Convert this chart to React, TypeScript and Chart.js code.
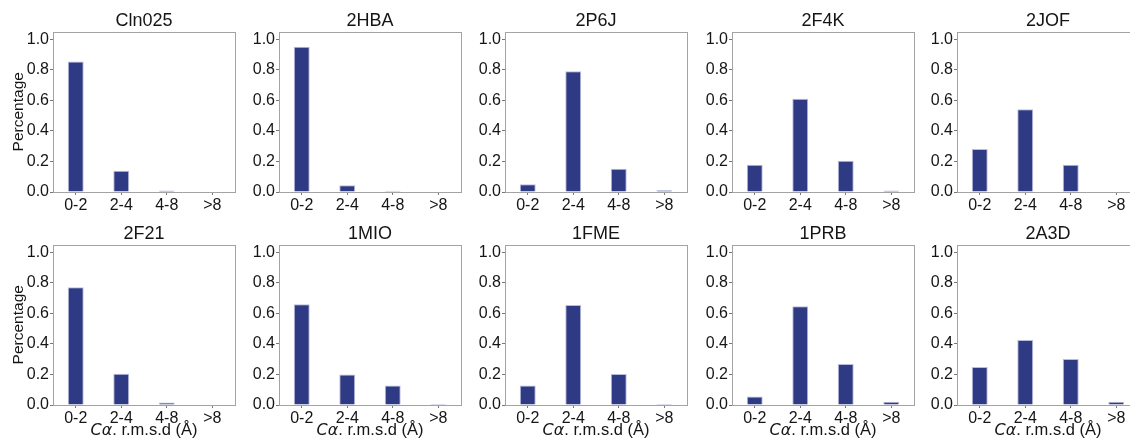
import React, { useEffect, useRef } from "react";
import { Chart, registerables } from "chart.js";

Chart.register(...registerables);

// ---- data ----
const categories = ["0-2", "2-4", "4-8", ">8"];
const panelTitles = ["Cln025", "2HBA", "2P6J", "2F4K", "2JOF", "2F21", "1MIO", "1FME", "1PRB", "2A3D"];
const cln025 = [0.854, 0.139, 0.01, 0];
const hba2 = [0.95, 0.044, 0.008, 0];
const p6j2 = [0.05, 0.79, 0.152, 0.012];
const f4k2 = [0.178, 0.61, 0.205, 0.01];
const jof2 = [0.281, 0.542, 0.178, 0];
const f21_2 = [0.771, 0.205, 0.017, 0];
const mio1 = [0.659, 0.199, 0.127, 0.007];
const fme1 = [0.127, 0.655, 0.203, 0.007];
const prb1 = [0.055, 0.646, 0.269, 0.022];
const a3d2 = [0.249, 0.426, 0.301, 0.022];
const panelValues = [cln025, hba2, p6j2, f4k2, jof2, f21_2, mio1, fme1, prb1, a3d2];
const yTicks = [0, 0.2, 0.4, 0.6, 0.8, 1.0];
const yMin = 0;
const yMax = 1.05;
const yAxisTitle = "Percentage";
const xAxisTitleItalic = "Cα";
const xAxisTitleRest = ". r.m.s.d (Å)";

const FONT = "'Liberation Sans', Arial, Helvetica, sans-serif";
const MATH_FONT = "'DejaVu Sans', sans-serif";
const BAR_COLOR = "#2f3a84";
const BAR_EDGE = "#b9bddc";
const SPINE = "#a3a3a3";
const TICK_MARK = "#777777";
const TEXT = "#151515";

const COL_LEFTS = [0, 226, 452, 679, 904];
const ROW_TOPS = [0, 213];
const Y_AXIS_W = 53;
const PLOT_W = 182;
const CANVAS_W = Y_AXIS_W + PLOT_W + Y_AXIS_W;

type PanelProps = {
  title: string;
  values: number[];
  showY: boolean;
  showX: boolean;
  left: number;
  top: number;
};

function Panel({ title, values, showY, showX, left, top }: PanelProps) {
  const ref = useRef<HTMLCanvasElement | null>(null);
  const height = showX ? 232 : 222;

  useEffect(() => {
    if (!ref.current) return;

    const boxPlugin = {
      id: "boxPlugin",
      afterDatasetsDraw(chart: any) {
        const { ctx, chartArea } = chart;
        ctx.save();
        ctx.strokeStyle = SPINE;
        ctx.lineWidth = 1;
        ctx.strokeRect(
          Math.round(chartArea.left) + 0.5,
          Math.round(chartArea.top) + 0.5,
          Math.round(chartArea.right) - Math.round(chartArea.left),
          Math.round(chartArea.bottom) - Math.round(chartArea.top)
        );
        ctx.restore();
      },
    };

    const xTitlePlugin = {
      id: "xTitlePlugin",
      afterDraw(chart: any) {
        if (!showX) return;
        const { ctx, chartArea } = chart;
        ctx.save();
        ctx.fillStyle = TEXT;
        ctx.textBaseline = "alphabetic";
        ctx.textAlign = "left";
        const italicFont = `italic 16px ${MATH_FONT}`;
        const normalFont = `16.5px ${FONT}`;
        ctx.font = italicFont;
        const w1 = ctx.measureText(xAxisTitleItalic).width;
        ctx.font = normalFont;
        const w2 = ctx.measureText(xAxisTitleRest).width;
        const cx = (chartArea.left + chartArea.right) / 2;
        const x0 = cx - (w1 + w2) / 2;
        const y = chartArea.bottom + 30;
        ctx.font = italicFont;
        ctx.fillText(xAxisTitleItalic, x0, y);
        ctx.font = normalFont;
        ctx.fillText(xAxisTitleRest, x0 + w1, y);
        ctx.restore();
      },
    };

    const chart = new Chart(ref.current, {
      type: "bar",
      data: {
        labels: categories,
        datasets: [
          {
            data: values,
            backgroundColor: BAR_COLOR,
            borderColor: BAR_EDGE,
            borderWidth: 1,
            barPercentage: 0.35,
            categoryPercentage: 1.0,
            yAxisID: "y",
          },
        ],
      },
      options: {
        animation: false,
        responsive: false,
        maintainAspectRatio: false,
        devicePixelRatio: 1,
        layout: { padding: { top: 0, right: 0, bottom: showX ? 16 : 0, left: 0 } },
        plugins: {
          legend: { display: false },
          tooltip: { enabled: false },
          title: {
            display: true,
            text: title,
            color: TEXT,
            font: { family: FONT, size: 18, weight: "normal", lineHeight: 1 },
            padding: { top: 12.5, bottom: 1 },
          },
        },
        scales: {
          x: {
            type: "category",
            offset: true,
            border: { display: false },
            grid: {
              display: true,
              drawOnChartArea: false,
              drawTicks: true,
              tickLength: 3,
              color: TICK_MARK,
              offset: false,
            },
            ticks: {
              color: TEXT,
              font: { family: FONT, size: 16 },
              padding: 1,
              maxRotation: 0,
              autoSkip: false,
            },
            afterFit: (s: any) => {
              s.height = showX ? 24 : 30;
            },
          },
          y: {
            type: "linear",
            position: "left",
            min: yMin,
            max: yMax,
            border: { display: false },
            grid: {
              display: true,
              drawOnChartArea: false,
              drawTicks: true,
              tickLength: 3,
              color: TICK_MARK,
            },
            afterBuildTicks: (s: any) => {
              s.ticks = yTicks.map((v) => ({ value: v }));
            },
            ticks: {
              color: TEXT,
              font: { family: FONT, size: 16 },
              padding: 1,
              includeBounds: false,
              callback: (v: any) => Number(v).toFixed(1),
            },
            title: {
              display: showY,
              text: yAxisTitle,
              color: TEXT,
              font: { family: FONT, size: 15.5, lineHeight: 1.2 },
              padding: { top: 9, bottom: 0 },
            },
            afterFit: (s: any) => {
              s.width = Y_AXIS_W;
            },
          },
          yRightSpacer: {
            type: "linear",
            position: "right",
            display: true,
            min: yMin,
            max: yMax,
            border: { display: false },
            grid: { display: false, drawTicks: false },
            ticks: { display: false },
            afterFit: (s: any) => {
              s.width = Y_AXIS_W;
            },
          },
        },
      },
      plugins: [boxPlugin, xTitlePlugin],
    } as any);

    return () => chart.destroy();
  }, [title, values, showY, showX]);

  return (
    <canvas
      ref={ref}
      width={CANVAS_W}
      height={height}
      style={{ position: "absolute", left, top, width: CANVAS_W, height }}
    />
  );
}

export default function App() {
  return (
    <div
      style={{
        position: "absolute",
        left: 0,
        top: 0,
        width: 1130,
        height: 444,
        overflow: "hidden",
        background: "#ffffff",
      }}
    >
      {panelTitles.map((t, i) => {
        const row = Math.floor(i / 5);
        const col = i % 5;
        return (
          <Panel
            key={t}
            title={t}
            values={panelValues[i]}
            showY={col === 0}
            showX={row === 1}
            left={COL_LEFTS[col]}
            top={ROW_TOPS[row]}
          />
        );
      })}
    </div>
  );
}
